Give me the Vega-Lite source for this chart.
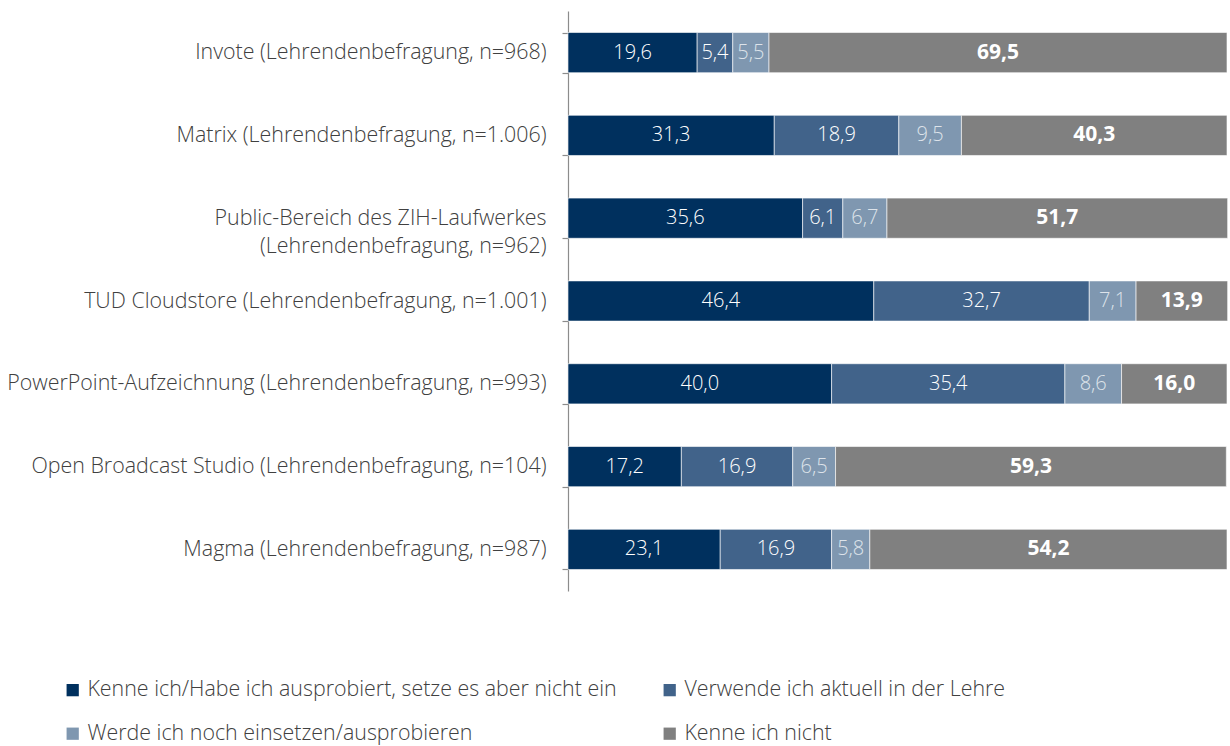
{
  "$schema": "https://vega.github.io/schema/vega-lite/v6.json",
  "width": 659,
  "height": 580,
  "padding": {"left": 6, "top": 0, "right": 2, "bottom": 0},
  "config": {
    "locale": {"number": {"decimal": ",", "thousands": ".", "grouping": [3], "currency": ["", " €"]}},
    "view": {"stroke": null},
    "font": "Open Sans"
  },
  "data": {
    "values": [
      {"t": "Invote (Lehrendenbefragung, n=968)", "c": "Kenne ich/Habe ich ausprobiert, setze es aber nicht ein", "o": 1, "v": 19.6},
      {"t": "Invote (Lehrendenbefragung, n=968)", "c": "Verwende ich aktuell in der Lehre", "o": 2, "v": 5.4},
      {"t": "Invote (Lehrendenbefragung, n=968)", "c": "Werde ich noch einsetzen/ausprobieren", "o": 3, "v": 5.5},
      {"t": "Invote (Lehrendenbefragung, n=968)", "c": "Kenne ich nicht", "o": 4, "v": 69.5},
      {"t": "Matrix (Lehrendenbefragung, n=1.006)", "c": "Kenne ich/Habe ich ausprobiert, setze es aber nicht ein", "o": 1, "v": 31.3},
      {"t": "Matrix (Lehrendenbefragung, n=1.006)", "c": "Verwende ich aktuell in der Lehre", "o": 2, "v": 18.9},
      {"t": "Matrix (Lehrendenbefragung, n=1.006)", "c": "Werde ich noch einsetzen/ausprobieren", "o": 3, "v": 9.5},
      {"t": "Matrix (Lehrendenbefragung, n=1.006)", "c": "Kenne ich nicht", "o": 4, "v": 40.3},
      {"t": "Public-Bereich des ZIH-Laufwerkes|(Lehrendenbefragung, n=962)", "c": "Kenne ich/Habe ich ausprobiert, setze es aber nicht ein", "o": 1, "v": 35.6},
      {"t": "Public-Bereich des ZIH-Laufwerkes|(Lehrendenbefragung, n=962)", "c": "Verwende ich aktuell in der Lehre", "o": 2, "v": 6.1},
      {"t": "Public-Bereich des ZIH-Laufwerkes|(Lehrendenbefragung, n=962)", "c": "Werde ich noch einsetzen/ausprobieren", "o": 3, "v": 6.7},
      {"t": "Public-Bereich des ZIH-Laufwerkes|(Lehrendenbefragung, n=962)", "c": "Kenne ich nicht", "o": 4, "v": 51.7},
      {"t": "TUD Cloudstore (Lehrendenbefragung, n=1.001)", "c": "Kenne ich/Habe ich ausprobiert, setze es aber nicht ein", "o": 1, "v": 46.4},
      {"t": "TUD Cloudstore (Lehrendenbefragung, n=1.001)", "c": "Verwende ich aktuell in der Lehre", "o": 2, "v": 32.7},
      {"t": "TUD Cloudstore (Lehrendenbefragung, n=1.001)", "c": "Werde ich noch einsetzen/ausprobieren", "o": 3, "v": 7.1},
      {"t": "TUD Cloudstore (Lehrendenbefragung, n=1.001)", "c": "Kenne ich nicht", "o": 4, "v": 13.9},
      {"t": "PowerPoint-Aufzeichnung (Lehrendenbefragung, n=993)", "c": "Kenne ich/Habe ich ausprobiert, setze es aber nicht ein", "o": 1, "v": 40.0},
      {"t": "PowerPoint-Aufzeichnung (Lehrendenbefragung, n=993)", "c": "Verwende ich aktuell in der Lehre", "o": 2, "v": 35.4},
      {"t": "PowerPoint-Aufzeichnung (Lehrendenbefragung, n=993)", "c": "Werde ich noch einsetzen/ausprobieren", "o": 3, "v": 8.6},
      {"t": "PowerPoint-Aufzeichnung (Lehrendenbefragung, n=993)", "c": "Kenne ich nicht", "o": 4, "v": 16.0},
      {"t": "Open Broadcast Studio (Lehrendenbefragung, n=104)", "c": "Kenne ich/Habe ich ausprobiert, setze es aber nicht ein", "o": 1, "v": 17.2},
      {"t": "Open Broadcast Studio (Lehrendenbefragung, n=104)", "c": "Verwende ich aktuell in der Lehre", "o": 2, "v": 16.9},
      {"t": "Open Broadcast Studio (Lehrendenbefragung, n=104)", "c": "Werde ich noch einsetzen/ausprobieren", "o": 3, "v": 6.5},
      {"t": "Open Broadcast Studio (Lehrendenbefragung, n=104)", "c": "Kenne ich nicht", "o": 4, "v": 59.3},
      {"t": "Magma (Lehrendenbefragung, n=987)", "c": "Kenne ich/Habe ich ausprobiert, setze es aber nicht ein", "o": 1, "v": 23.1},
      {"t": "Magma (Lehrendenbefragung, n=987)", "c": "Verwende ich aktuell in der Lehre", "o": 2, "v": 16.9},
      {"t": "Magma (Lehrendenbefragung, n=987)", "c": "Werde ich noch einsetzen/ausprobieren", "o": 3, "v": 5.8},
      {"t": "Magma (Lehrendenbefragung, n=987)", "c": "Kenne ich nicht", "o": 4, "v": 54.2}
    ]
  },
  "transform": [
    {"stack": "v", "groupby": ["t"], "sort": [{"field": "o"}], "as": ["x0", "x1"]},
    {"calculate": "(datum.x0 + datum.x1) / 2", "as": "xm"}
  ],
  "encoding": {
    "y": {
      "field": "t", "type": "nominal", "sort": null, "title": null,
      "scale": {"paddingInner": 0.515, "paddingOuter": 0.26},
      "axis": {
        "labelExpr": "split(datum.label, '|')",
        "labelFont": "Open Sans", "labelFontSize": 21.4, "labelFontWeight": 300, "labelColor": "#404040",
        "labelPadding": 16, "labelLimit": 700, "labelLineHeight": 28,
        "domainColor": "#8c8c8c", "tickColor": "#8c8c8c", "tickSize": 6,
        "tickBand": "extent", "domainWidth": 1.2, "tickWidth": 1.2
      }
    }
  },
  "layer": [
    {
      "mark": {"type": "bar", "stroke": "white", "strokeWidth": 0.6},
      "encoding": {
        "x": {"field": "x0", "type": "quantitative", "scale": {"domain": [0, 100], "nice": false}, "axis": null},
        "x2": {"field": "x1"},
        "color": {
          "field": "c", "type": "nominal",
          "sort": ["Kenne ich/Habe ich ausprobiert, setze es aber nicht ein", "Verwende ich aktuell in der Lehre", "Werde ich noch einsetzen/ausprobieren", "Kenne ich nicht"],
          "scale": {
            "domain": ["Kenne ich/Habe ich ausprobiert, setze es aber nicht ein", "Verwende ich aktuell in der Lehre", "Werde ich noch einsetzen/ausprobieren", "Kenne ich nicht"],
            "range": ["#00305e", "#41638a", "#7f97b0", "#808080"]
          },
          "legend": {
            "title": null, "orient": "none", "legendX": -506, "legendY": 668,
            "direction": "horizontal",
            "columns": 2, "columnPadding": 42, "rowPadding": 21,
            "symbolType": "square", "symbolSize": 150, "symbolStrokeWidth": 0,
            "labelFont": "Open Sans", "labelFontSize": 21.4, "labelFontWeight": 300, "labelColor": "#404040",
            "labelOffset": 4, "labelLimit": 700
          }
        }
      }
    },
    {
      "transform": [{"filter": "datum.o < 4"}],
      "mark": {"type": "text", "font": "Open Sans", "fontSize": 20, "fontWeight": 300},
      "encoding": {
        "x": {"field": "xm", "type": "quantitative"},
        "text": {"field": "v", "type": "quantitative", "format": ".1f"},
        "color": {"condition": {"test": "datum.o == 3", "value": "#dde3ea"}, "value": "white"}
      }
    },
    {
      "transform": [{"filter": "datum.o == 4"}],
      "mark": {"type": "text", "font": "Open Sans", "fontSize": 21, "fontWeight": "bold", "color": "white"},
      "encoding": {
        "x": {"field": "xm", "type": "quantitative"},
        "text": {"field": "v", "type": "quantitative", "format": ".1f"}
      }
    }
  ]
}
